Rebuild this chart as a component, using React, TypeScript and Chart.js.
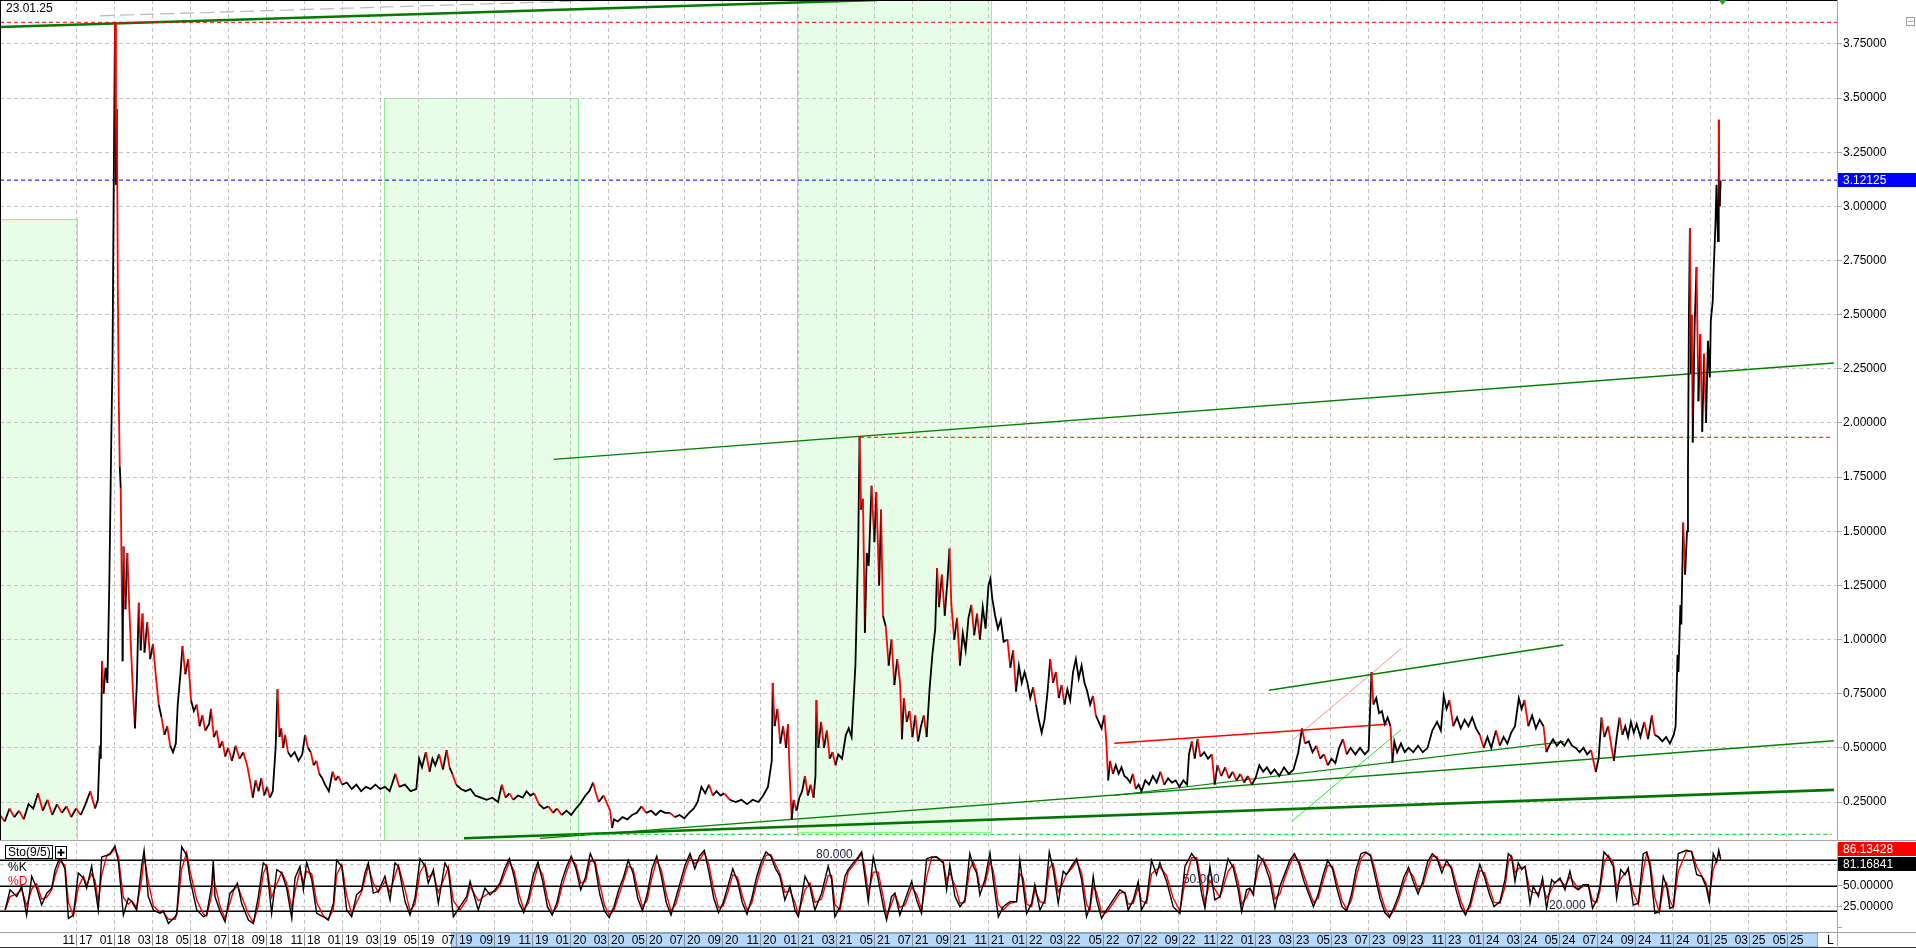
import React, { useEffect, useRef } from "react";
import { Chart, registerables } from "chart.js";

Chart.register(...registerables);

const FONT = '"Liberation Sans", Arial, Helvetica, sans-serif';
const GRID = "#c4c4c4";

// ---------- time axis (t = months since Jan 2017) ----------
const X_MIN = 6.0;
const X_MAX = 102.64;
const gridMonths = [10, 12, 14, 16, 18, 20, 22, 24, 26, 28, 30, 32, 34, 36, 38, 40, 42, 44, 46, 48, 50, 52, 54, 56, 58, 60, 62, 64, 66, 68, 70, 72, 74, 76, 78, 80, 82, 84, 86, 88, 90, 92, 94, 96, 98, 100];
const monthLabels = ["11 17", "01 18", "03 18", "05 18", "07 18", "09 18", "11 18", "01 19", "03 19", "05 19", "07 19", "09 19", "11 19", "01 20", "03 20", "05 20", "07 20", "09 20", "11 20", "01 21", "03 21", "05 21", "07 21", "09 21", "11 21", "01 22", "03 22", "05 22", "07 22", "09 22", "11 22", "01 23", "03 23", "05 23", "07 23", "09 23", "11 23", "01 24", "03 24", "05 24", "07 24", "09 24", "11 24", "01 25", "03 25", "05 25"];
const highlightT = [29.74, 101.58];

// ---------- price ----------
const priceTicks = [0.25, 0.5, 0.75, 1.0, 1.25, 1.5, 1.75, 2.0, 2.25, 2.5, 2.75, 3.0, 3.25, 3.5, 3.75];
const Y_MIN = 0.07;
const Y_MAX = 3.953;

const priceT = [6.0, 6.25, 6.5, 6.75, 7.0, 7.25, 7.5, 7.75, 8.0, 8.25, 8.5, 8.75, 9.0, 9.25, 9.5, 9.75, 10.0, 10.25, 10.5, 10.75, 11.0, 11.15, 11.25, 11.3, 11.37, 11.45, 11.55, 11.65, 11.75, 11.85, 11.92, 12.0, 12.05, 12.1, 12.15, 12.2, 12.25, 12.3, 12.35, 12.4, 12.45, 12.5, 12.6, 12.7, 12.8, 12.9, 13.0, 13.1, 13.2, 13.3, 13.4, 13.5, 13.6, 13.75, 13.9, 14.05, 14.2, 14.35, 14.5, 14.65, 14.8, 14.95, 15.1, 15.25, 15.35, 15.5, 15.6, 15.75, 15.9, 16.05, 16.2, 16.35, 16.5, 16.65, 16.8, 17.0, 17.1, 17.25, 17.4, 17.55, 17.7, 17.85, 18.0, 18.2, 18.4, 18.6, 18.8, 19.0, 19.15, 19.3, 19.45, 19.6, 19.75, 19.9, 20.05, 20.2, 20.35, 20.5, 20.6, 20.7, 20.8, 20.9, 21.0, 21.15, 21.3, 21.5, 21.7, 21.9, 22.05, 22.2, 22.35, 22.5, 22.65, 22.8, 22.95, 23.1, 23.3, 23.5, 23.65, 23.8, 24.0, 24.25, 24.5, 24.75, 25.0, 25.25, 25.5, 25.75, 26.0, 26.25, 26.5, 26.8, 27.0, 27.3, 27.6, 27.9, 28.05, 28.2, 28.4, 28.6, 28.75, 28.9, 29.1, 29.3, 29.5, 29.65, 29.8, 30.0, 30.25, 30.5, 30.75, 31.0, 31.3, 31.6, 31.9, 32.2, 32.4, 32.6, 32.8, 33.0, 33.25, 33.5, 33.7, 33.9, 34.1, 34.35, 34.6, 34.85, 35.1, 35.3, 35.55, 35.8, 36.05, 36.3, 36.5, 36.8, 37.0, 37.2, 37.35, 37.5, 37.75, 37.95, 38.1, 38.2, 38.3, 38.5, 38.75, 39.0, 39.25, 39.5, 39.75, 40.0, 40.25, 40.5, 40.75, 41.0, 41.25, 41.5, 41.75, 42.0, 42.25, 42.5, 42.7, 42.9, 43.1, 43.3, 43.5, 43.7, 43.9, 44.1, 44.4, 44.7, 45.0, 45.3, 45.6, 45.9, 46.15, 46.4, 46.6, 46.65, 46.75, 46.9, 47.05, 47.2, 47.35, 47.45, 47.55, 47.65, 47.75, 47.9, 48.05, 48.2, 48.35, 48.5, 48.65, 48.8, 48.9, 48.95, 49.05, 49.2, 49.35, 49.5, 49.65, 49.8, 49.95, 50.1, 50.3, 50.5, 50.65, 50.8, 51.0, 51.05, 51.15, 51.22, 51.3, 51.4, 51.5, 51.6, 51.7, 51.85, 52.0, 52.1, 52.25, 52.35, 52.45, 52.6, 52.75, 52.9, 53.05, 53.2, 53.35, 53.45, 53.55, 53.7, 53.85, 54.0, 54.15, 54.3, 54.45, 54.6, 54.75, 54.9, 55.05, 55.2, 55.3, 55.4, 55.55, 55.7, 55.85, 55.95, 56.05, 56.2, 56.35, 56.5, 56.65, 56.8, 56.95, 57.1, 57.25, 57.4, 57.55, 57.7, 57.85, 58.0, 58.1, 58.2, 58.35, 58.5, 58.65, 58.8, 59.0, 59.15, 59.3, 59.45, 59.6, 59.75, 59.9, 60.05, 60.2, 60.35, 60.5, 60.65, 60.8, 60.95, 61.1, 61.25, 61.4, 61.55, 61.7, 61.85, 62.0, 62.15, 62.3, 62.45, 62.6, 62.75, 62.9, 63.05, 63.2, 63.35, 63.5, 63.65, 63.8, 63.95, 64.1, 64.2, 64.3, 64.4, 64.55, 64.7, 64.85, 65.0, 65.15, 65.3, 65.45, 65.6, 65.75, 65.9, 66.05, 66.25, 66.45, 66.65, 66.85, 67.05, 67.25, 67.45, 67.65, 67.85, 68.05, 68.25, 68.45, 68.55, 68.7, 68.85, 69.0, 69.15, 69.35, 69.55, 69.75, 69.9, 70.05, 70.25, 70.45, 70.65, 70.85, 71.05, 71.25, 71.45, 71.65, 71.85, 72.05, 72.25, 72.45, 72.65, 72.85, 73.05, 73.3, 73.55, 73.8, 74.05, 74.3, 74.5, 74.65, 74.85, 75.05, 75.25, 75.45, 75.65, 75.85, 76.05, 76.25, 76.45, 76.65, 76.85, 77.05, 77.3, 77.55, 77.8, 78.0, 78.15, 78.25, 78.4, 78.55, 78.7, 78.85, 79.0, 79.15, 79.25, 79.35, 79.5, 79.7, 79.9, 80.1, 80.35, 80.6, 80.85, 81.1, 81.35, 81.6, 81.8, 81.95, 82.1, 82.25, 82.45, 82.65, 82.85, 83.05, 83.25, 83.45, 83.65, 83.85, 84.05, 84.25, 84.45, 84.7, 84.9, 85.1, 85.3, 85.5, 85.7, 85.9, 86.05, 86.2, 86.4, 86.6, 86.8, 87.0, 87.2, 87.35, 87.5, 87.7, 87.9, 88.1, 88.3, 88.5, 88.7, 88.9, 89.1, 89.3, 89.5, 89.7, 89.95, 90.1, 90.25, 90.4, 90.6, 90.75, 90.9, 91.05, 91.2, 91.35, 91.5, 91.65, 91.8, 91.95, 92.1, 92.3, 92.5, 92.7, 92.9, 93.05, 93.25, 93.45, 93.65, 93.85, 94.05, 94.15, 94.25, 94.3, 94.4, 94.45, 94.55, 94.65, 94.75, 94.8, 94.85, 94.9, 94.95, 95.0, 95.05, 95.15, 95.25, 95.35, 95.45, 95.55, 95.65, 95.75, 95.85, 95.95, 96.0, 96.1, 96.15, 96.25, 96.3, 96.38, 96.42, 96.47, 96.52];
const priceV = [0.19, 0.16, 0.22, 0.18, 0.21, 0.17, 0.24, 0.22, 0.29, 0.21, 0.26, 0.19, 0.24, 0.2, 0.23, 0.18, 0.22, 0.19, 0.24, 0.3, 0.22, 0.26, 0.51, 0.45, 0.9, 0.75, 0.87, 0.8, 1.25, 1.9, 2.3, 3.3, 3.85, 3.1, 3.45, 2.6, 2.1, 1.8, 1.7, 1.3, 0.9, 1.43, 1.14, 1.4, 1.15, 0.94, 0.75, 0.59, 0.8, 1.17, 0.95, 1.12, 0.94, 1.08, 0.91, 0.98, 0.83, 0.7, 0.64, 0.56, 0.6, 0.51, 0.48, 0.52, 0.7, 0.85, 0.97, 0.84, 0.91, 0.72, 0.67, 0.7, 0.6, 0.65, 0.58, 0.61, 0.68, 0.55, 0.58, 0.5, 0.53, 0.46, 0.5, 0.44, 0.51, 0.45, 0.48, 0.42, 0.35, 0.27, 0.35, 0.3, 0.36, 0.28, 0.32, 0.27, 0.3, 0.5, 0.77, 0.55, 0.59, 0.5, 0.56, 0.48, 0.46, 0.48, 0.44, 0.47, 0.56, 0.5, 0.48, 0.42, 0.44, 0.38, 0.36, 0.33, 0.3, 0.39, 0.35, 0.37, 0.33, 0.34, 0.31, 0.33, 0.3, 0.32, 0.31, 0.33, 0.31, 0.32, 0.3, 0.38, 0.32, 0.33, 0.3, 0.31, 0.45, 0.41, 0.48, 0.39, 0.45, 0.42, 0.47, 0.4, 0.49, 0.41, 0.38, 0.33, 0.31, 0.3, 0.31, 0.28, 0.27, 0.26, 0.27, 0.25, 0.33, 0.27, 0.29, 0.26, 0.28, 0.27, 0.3, 0.28, 0.29, 0.24, 0.22, 0.23, 0.2, 0.22, 0.19, 0.21, 0.19, 0.22, 0.24, 0.28, 0.3, 0.34, 0.29, 0.25, 0.28, 0.24, 0.21, 0.13, 0.17, 0.16, 0.18, 0.17, 0.19, 0.2, 0.23, 0.2, 0.21, 0.19, 0.21, 0.2, 0.2, 0.18, 0.19, 0.175, 0.2, 0.22, 0.25, 0.32, 0.29, 0.33, 0.28, 0.3, 0.28, 0.29, 0.26, 0.25, 0.26, 0.24, 0.26, 0.25, 0.28, 0.32, 0.44, 0.8, 0.6, 0.68, 0.52, 0.6, 0.5, 0.61, 0.37, 0.17, 0.26, 0.21, 0.27, 0.3, 0.37, 0.28, 0.33, 0.27, 0.37, 0.72, 0.5, 0.62, 0.5, 0.58, 0.45, 0.48, 0.42, 0.47, 0.45, 0.56, 0.59, 0.55, 0.88, 1.06, 1.45, 1.94, 1.6, 1.65, 1.03, 1.4, 1.34, 1.71, 1.45, 1.68, 1.25, 1.6, 1.11, 1.06, 0.88, 1.0, 0.79, 0.91, 0.8, 0.54, 0.73, 0.62, 0.67, 0.55, 0.65, 0.53, 0.6, 0.65, 0.55, 0.77, 0.93, 1.05, 1.33, 1.15, 1.3, 1.11, 1.28, 1.42, 1.16, 1.0, 1.1, 0.88, 1.03, 0.95, 1.1, 1.16, 1.02, 1.12, 1.0, 1.15, 1.05, 1.25, 1.28, 1.19, 1.11, 1.05, 1.09, 0.99, 1.0, 0.87, 0.95, 0.76, 0.88, 0.8, 0.85, 0.8, 0.73, 0.78, 0.7, 0.63, 0.57, 0.63, 0.75, 0.91, 0.8, 0.85, 0.73, 0.79, 0.7, 0.77, 0.72, 0.85, 0.91, 0.82, 0.88, 0.8, 0.76, 0.7, 0.74, 0.65, 0.62, 0.59, 0.65, 0.53, 0.35, 0.44, 0.38, 0.42, 0.38, 0.41, 0.37, 0.36, 0.34, 0.38, 0.31, 0.33, 0.3, 0.35, 0.33, 0.37, 0.34, 0.39, 0.33, 0.36, 0.34, 0.35, 0.32, 0.35, 0.33, 0.47, 0.53, 0.45, 0.54, 0.46, 0.48, 0.45, 0.47, 0.33, 0.42, 0.37, 0.41, 0.36, 0.39, 0.35, 0.38, 0.34, 0.37, 0.33, 0.36, 0.42, 0.39, 0.41, 0.38, 0.4, 0.37, 0.41, 0.38, 0.4, 0.48, 0.59, 0.52, 0.53, 0.48, 0.51, 0.45, 0.47, 0.42, 0.45, 0.43, 0.5, 0.54, 0.47, 0.5, 0.47, 0.5, 0.47, 0.49, 0.85, 0.7, 0.73, 0.66, 0.67, 0.61, 0.64, 0.6, 0.43, 0.53, 0.48, 0.52, 0.48, 0.5, 0.48, 0.51, 0.48, 0.5, 0.58, 0.62, 0.58, 0.74, 0.68, 0.72, 0.6, 0.64, 0.59, 0.63, 0.6, 0.64, 0.59, 0.56, 0.5, 0.55, 0.5, 0.58, 0.51, 0.55, 0.52, 0.57, 0.6, 0.73, 0.68, 0.72, 0.6, 0.65, 0.59, 0.63, 0.6, 0.48, 0.51, 0.54, 0.51, 0.53, 0.51, 0.54, 0.51, 0.5, 0.48, 0.5, 0.47, 0.49, 0.39, 0.45, 0.64, 0.55, 0.6, 0.52, 0.44, 0.55, 0.64, 0.56, 0.6, 0.55, 0.62, 0.57, 0.61, 0.55, 0.62, 0.54, 0.65, 0.56, 0.55, 0.53, 0.55, 0.52, 0.56, 0.6, 0.93, 0.85, 1.16, 1.07, 1.54, 1.3, 1.5, 1.78, 2.5, 2.9, 2.23, 2.5, 1.91, 2.45, 2.72, 2.1, 2.41, 1.96, 2.32, 2.0, 2.38, 2.21, 2.47, 2.56, 2.7, 2.93, 3.1, 2.84, 3.4, 3.0, 3.12];

const lastClose = 3.12125;
const athLevel = 3.85;
const high2021Level = 1.934;
const high2021SpanT = [51.25, 102.3];
const floorLevel = 0.101;
const floorSpanT = [36.0, 102.37];
const markerT = 96.62;

// trend lines (two end points each)
const topTrendT = [6.0, 52.14];
const topTrendV = [3.828, 3.953];
const topDashT = [11.26, 38.25];
const topDashV = [3.88, 3.953];
const channelTopT = [35.12, 102.48];
const channelTopV = [1.832, 2.277];
const supportThickT = [30.41, 102.48];
const supportThickV = [0.083, 0.306];
const supportThinT = [34.41, 102.48];
const supportThinV = [0.082, 0.533];
const support2T = [64.6, 88.27];
const support2V = [0.28, 0.529];
const upperShortT = [72.76, 88.25];
const upperShortV = [0.766, 0.975];
const redTrendT = [64.62, 78.99];
const redTrendV = [0.521, 0.609];
const pinkTrendT = [73.96, 79.7];
const pinkTrendV = [0.533, 0.957];
const limeTrendT = [73.96, 79.7];
const limeTrendV = [0.161, 0.583];

// shaded zones
const zoneStartT = [6.0, 26.18, 47.93];
const zoneEndT = [10.03, 36.41, 58.16];
const zoneTopV = [2.943, 3.502, 4.5];
const zoneBottomV = [-1, -1, 0.112];

// ---------- stochastic ----------
const stochT = [6.27, 6.53, 6.88, 7.14, 7.4, 7.67, 7.93, 8.19, 8.46, 8.72, 8.9, 9.16, 9.42, 9.6, 9.86, 10.12, 10.39, 10.56, 10.82, 11.0, 11.17, 11.35, 11.61, 11.79, 12.05, 12.23, 12.49, 12.75, 12.93, 13.19, 13.45, 13.58, 13.8, 14.07, 14.42, 14.59, 14.86, 15.21, 15.3, 15.56, 15.82, 16.0, 16.35, 16.7, 16.87, 17.14, 17.22, 17.31, 17.57, 17.84, 18.1, 18.28, 18.49, 18.71, 19.07, 19.33, 19.59, 19.85, 20.03, 20.29, 20.56, 20.82, 21.08, 21.35, 21.52, 21.78, 21.96, 22.13, 22.4, 22.66, 23.01, 23.27, 23.54, 23.71, 23.98, 24.24, 24.5, 24.76, 25.03, 25.2, 25.38, 25.64, 25.9, 26.25, 26.52, 26.78, 26.96, 27.31, 27.57, 27.83, 28.1, 28.36, 28.53, 28.8, 29.06, 29.41, 29.59, 29.85, 30.2, 30.55, 30.73, 31.16, 31.51, 31.78, 32.04, 32.3, 32.55, 32.8, 33.05, 33.3, 33.55, 33.8, 34.05, 34.3, 34.55, 34.8, 35.05, 35.3, 35.55, 35.8, 36.05, 36.3, 36.55, 36.8, 37.05, 37.3, 37.55, 37.8, 38.05, 38.3, 38.55, 38.8, 39.05, 39.3, 39.55, 39.8, 40.05, 40.3, 40.55, 40.8, 41.05, 41.3, 41.55, 41.8, 42.05, 42.3, 42.55, 42.8, 43.05, 43.3, 43.55, 43.8, 44.05, 44.3, 44.55, 44.8, 45.05, 45.3, 45.55, 45.8, 46.05, 46.3, 46.55, 46.8, 47.03, 47.29, 47.56, 47.82, 48.0, 48.35, 48.61, 48.87, 49.22, 49.57, 49.75, 49.92, 50.19, 50.45, 50.62, 50.89, 51.15, 51.33, 51.5, 51.68, 51.94, 52.2, 52.47, 52.64, 52.9, 53.08, 53.34, 53.61, 53.96, 54.22, 54.48, 54.75, 55.01, 55.27, 55.62, 55.8, 55.97, 56.24, 56.5, 56.76, 57.02, 57.2, 57.38, 57.55, 57.81, 58.08, 58.25, 58.52, 58.78, 59.13, 59.48, 59.65, 59.83, 60.01, 60.27, 60.44, 60.71, 60.97, 61.2, 61.41, 61.67, 61.93, 62.11, 62.37, 62.64, 62.9, 63.16, 63.34, 63.51, 63.69, 63.95, 64.21, 64.56, 64.91, 65.18, 65.35, 65.62, 65.88, 66.05, 66.32, 66.58, 66.84, 67.02, 67.37, 67.72, 68.07, 68.34, 68.69, 68.95, 69.21, 69.39, 69.65, 69.91, 70.18, 70.61, 70.88, 71.14, 71.32, 71.58, 71.75, 71.93, 72.19, 72.45, 72.8, 73.07, 73.33, 73.6, 73.85, 74.1, 74.35, 74.6, 74.85, 75.1, 75.35, 75.6, 75.85, 76.1, 76.35, 76.6, 76.85, 77.1, 77.35, 77.6, 77.85, 78.1, 78.35, 78.6, 78.85, 79.1, 79.35, 79.6, 79.85, 80.1, 80.35, 80.6, 80.85, 81.1, 81.35, 81.6, 81.85, 82.1, 82.35, 82.6, 82.85, 83.1, 83.35, 83.6, 83.85, 84.1, 84.35, 84.6, 84.91, 85.17, 85.35, 85.52, 85.7, 85.87, 86.05, 86.23, 86.49, 86.66, 86.93, 87.15, 87.36, 87.63, 87.8, 88.07, 88.33, 88.59, 88.77, 89.03, 89.29, 89.56, 89.78, 90.0, 90.17, 90.38, 90.61, 90.87, 91.05, 91.26, 91.49, 91.66, 91.92, 92.19, 92.45, 92.63, 92.8, 93.06, 93.29, 93.5, 93.68, 93.85, 94.03, 94.29, 94.73, 94.99, 95.26, 95.52, 95.75, 95.92, 96.13, 96.31, 96.42, 96.52];
const stochK = [21, 45, 37, 49, 15, 61, 47, 27, 41, 47, 69, 84, 69, 11, 15, 65, 59, 47, 73, 47, 21, 84, 86, 88, 97, 78, 15, 35, 31, 21, 73, 92, 37, 21, 17, 20, 5, 13, 17, 96, 86, 57, 21, 13, 15, 51, 80, 37, 20, 7, 41, 45, 53, 29, 9, 5, 37, 77, 73, 17, 69, 65, 47, 11, 59, 73, 45, 78, 57, 17, 13, 9, 29, 80, 73, 21, 13, 39, 45, 65, 77, 41, 43, 61, 33, 77, 73, 31, 15, 35, 82, 73, 53, 69, 29, 77, 69, 13, 25, 37, 55, 21, 47, 39, 45, 53, 70, 82, 60, 30, 18, 35, 62, 78, 55, 25, 15, 30, 55, 72, 85, 70, 45, 60, 88, 75, 40, 20, 12, 25, 45, 60, 80, 65, 35, 20, 40, 70, 85, 60, 30, 15, 35, 55, 75, 88, 70, 85, 92, 65, 35, 18, 30, 50, 70, 55, 30, 16, 35, 60, 78, 90, 85, 70, 61, 33, 49, 21, 13, 61, 49, 21, 41, 73, 57, 13, 25, 61, 69, 77, 84, 90, 61, 31, 84, 57, 25, 9, 37, 41, 15, 33, 55, 33, 17, 82, 84, 84, 77, 45, 75, 37, 25, 33, 88, 73, 65, 39, 57, 89, 57, 13, 25, 31, 31, 80, 49, 17, 29, 51, 21, 33, 90, 69, 29, 67, 63, 73, 82, 57, 13, 25, 61, 33, 11, 21, 33, 45, 41, 21, 33, 55, 21, 33, 80, 63, 77, 55, 25, 17, 73, 88, 80, 41, 23, 73, 33, 37, 82, 71, 45, 19, 45, 47, 39, 86, 80, 57, 23, 49, 65, 80, 88, 75, 55, 40, 25, 40, 62, 80, 70, 45, 25, 20, 40, 70, 88, 90, 85, 60, 35, 18, 12, 25, 40, 60, 72, 55, 40, 55, 78, 88, 82, 65, 80, 70, 45, 25, 15, 30, 55, 75, 60, 40, 25, 31, 57, 88, 84, 55, 77, 69, 73, 29, 49, 37, 59, 23, 57, 53, 59, 45, 67, 49, 45, 51, 51, 23, 33, 49, 90, 84, 73, 35, 69, 63, 71, 27, 29, 88, 90, 73, 17, 19, 61, 49, 23, 25, 88, 92, 90, 63, 61, 49, 31, 88, 78, 92, 81];
const stochD = [21, 37, 40, 45, 26, 46, 52, 34, 36, 45, 62, 79, 74, 30, 14, 48, 61, 51, 64, 56, 30, 63, 85, 87, 94, 84, 36, 28, 32, 24, 56, 86, 55, 26, 18, 19, 10, 10, 16, 70, 89, 67, 33, 16, 14, 39, 70, 51, 26, 11, 30, 44, 50, 37, 16, 6, 26, 64, 74, 36, 52, 66, 53, 23, 43, 68, 54, 67, 64, 30, 14, 10, 22, 63, 75, 38, 16, 30, 43, 58, 73, 53, 42, 55, 42, 62, 74, 45, 20, 28, 66, 76, 60, 64, 42, 61, 72, 32, 21, 33, 49, 32, 38, 42, 43, 50, 64, 78, 67, 40, 22, 29, 53, 73, 63, 35, 18, 25, 47, 66, 81, 75, 53, 55, 79, 79, 52, 27, 15, 21, 38, 55, 73, 70, 45, 25, 33, 60, 80, 68, 40, 20, 28, 48, 68, 84, 76, 80, 90, 74, 45, 24, 26, 43, 63, 60, 38, 21, 29, 52, 72, 86, 87, 75, 64, 42, 44, 30, 16, 45, 53, 30, 34, 62, 62, 28, 21, 49, 66, 74, 82, 88, 71, 41, 66, 66, 36, 14, 28, 40, 24, 27, 48, 40, 22, 60, 83, 84, 79, 56, 65, 50, 29, 30, 70, 78, 68, 48, 51, 78, 68, 28, 21, 29, 31, 64, 59, 28, 25, 44, 31, 29, 71, 76, 42, 54, 64, 70, 79, 65, 28, 21, 49, 42, 18, 18, 29, 41, 42, 28, 29, 48, 32, 29, 64, 69, 72, 62, 35, 20, 54, 83, 83, 54, 29, 56, 46, 36, 67, 75, 54, 28, 36, 46, 42, 70, 82, 65, 34, 40, 60, 75, 85, 79, 62, 45, 30, 35, 55, 74, 73, 53, 32, 22, 33, 60, 82, 89, 87, 68, 43, 24, 14, 21, 35, 53, 68, 61, 45, 50, 70, 85, 84, 71, 75, 73, 53, 32, 18, 25, 47, 68, 65, 47, 30, 29, 48, 78, 85, 65, 70, 72, 72, 44, 42, 41, 52, 35, 46, 54, 57, 50, 60, 55, 46, 49, 51, 32, 30, 44, 76, 86, 77, 48, 58, 65, 68, 42, 28, 68, 89, 79, 36, 18, 47, 53, 32, 24, 67, 91, 91, 72, 62, 53, 37, 69, 81, 87, 86];
const stochLevels = [20, 50, 80];
const stochTicks = [0, 25, 50, 75, 100];
const stochDLast = 86.13428;
const stochKLast = 81.16841;
const levelTextT = [48.93, 68.23, 87.49];
const levelTextV = [87, 57.4, 26.5];
const levelText = ["80.000", "50.000", "20.000"];

const toXY = (ts: number[], vs: number[]) => ts.map((t, i) => ({ x: t, y: vs[i] }));
const hLine = (span: number[], v: number) => [{ x: span[0], y: v }, { x: span[1], y: v }];

function xScaleBase(height: number) {
  return {
    type: "linear" as const,
    min: X_MIN,
    max: X_MAX,
    afterBuildTicks: (s: any) => {
      s.ticks = gridMonths.map((v) => ({ value: v }));
    },
    afterFit: (s: any) => {
      s.height = height;
      s.paddingLeft = 0;
      s.paddingRight = 0;
      s.paddingTop = 0;
      s.paddingBottom = 0;
    },
    ticks: { display: false },
    grid: { color: GRID, drawTicks: false, lineWidth: 1 },
    border: { display: false, dash: [4, 3] },
  };
}

function yAfterFit(s: any) {
  s.width = 79;
  s.paddingTop = 0;
  s.paddingBottom = 0;
  s.paddingLeft = 0;
  s.paddingRight = 0;
}

export default function App() {
  const mainRef = useRef<HTMLCanvasElement>(null);
  const stoRef = useRef<HTMLCanvasElement>(null);

  useEffect(() => {
    document.body.style.margin = "0";
    document.body.style.overflow = "hidden";

    const lineDs = (data: any[], color: string, width: number, dash: number[] = []) => ({
      data,
      borderColor: color,
      borderWidth: width,
      borderDash: dash,
      pointRadius: 0,
      fill: false,
      tension: 0,
      order: 2,
      borderCapStyle: "butt" as const,
    });

    const mainDecor = {
      id: "mainDecor",
      beforeDraw(chart: any) {
        const { ctx, chartArea: a, scales } = chart;
        const x = scales.x;
        const y = scales.y;
        ctx.save();
        ctx.fillStyle = "#ffffff";
        ctx.fillRect(0, 0, chart.width, chart.height);
        ctx.beginPath();
        ctx.rect(a.left, a.top, a.right - a.left, a.bottom - a.top);
        ctx.clip();
        for (let i = 0; i < zoneStartT.length; i++) {
          const x0 = Math.round(x.getPixelForValue(zoneStartT[i]));
          const x1 = Math.round(x.getPixelForValue(zoneEndT[i]));
          const y0 = Math.round(y.getPixelForValue(zoneTopV[i]));
          const y1 = Math.round(y.getPixelForValue(zoneBottomV[i]));
          ctx.fillStyle = "#e8fde8";
          ctx.fillRect(x0, y0, x1 - x0, y1 - y0);
          ctx.strokeStyle = "#8ef08e";
          ctx.lineWidth = 1;
          ctx.strokeRect(x0 + 0.5, y0 + 0.5, x1 - x0, y1 - y0);
        }
        ctx.restore();
      },
      afterDraw(chart: any) {
        const { ctx, chartArea: a, scales } = chart;
        const x = scales.x;
        const y = scales.y;
        ctx.save();
        ctx.strokeStyle = "#000";
        ctx.lineWidth = 1;
        ctx.beginPath();
        ctx.moveTo(0, 0.5);
        ctx.lineTo(a.right, 0.5);
        ctx.moveTo(0.5, 0);
        ctx.lineTo(0.5, a.bottom);
        ctx.stroke();
        ctx.strokeStyle = "#a8a8a8";
        ctx.beginPath();
        ctx.moveTo(0, a.bottom - 0.5);
        ctx.lineTo(chart.width, a.bottom - 0.5);
        ctx.stroke();
        ctx.fillStyle = "#000";
        ctx.font = `12px ${FONT}`;
        ctx.textBaseline = "middle";
        ctx.textAlign = "left";
        ctx.fillText("23.01.25", 6, 8.5);
        const yc = y.getPixelForValue(lastClose);
        ctx.fillStyle = "#0000ff";
        ctx.fillRect(a.right + 1, Math.round(yc) - 7, chart.width - a.right - 1, 14);
        ctx.fillStyle = "#ffffff";
        ctx.fillText(lastClose.toFixed(5), a.right + 6, yc + 0.5);
        const mx = x.getPixelForValue(markerT);
        ctx.fillStyle = "#2e9e2e";
        ctx.beginPath();
        ctx.moveTo(mx - 4, 0);
        ctx.lineTo(mx + 4, 0);
        ctx.lineTo(mx, 5);
        ctx.closePath();
        ctx.fill();
        ctx.strokeStyle = "#a0a0a0";
        ctx.strokeRect(1906.5, 17.5, 8, 8);
        ctx.beginPath();
        ctx.moveTo(1908, 21.5);
        ctx.lineTo(1913, 21.5);
        ctx.stroke();
        ctx.restore();
      },
    };

    const main = new Chart(mainRef.current as HTMLCanvasElement, {
      type: "line",
      data: {
        datasets: [
          {
            data: toXY(priceT, priceV),
            borderColor: "#000000",
            borderWidth: 1.8,
            pointRadius: 0,
            tension: 0,
            fill: false,
            order: 0,
            segment: {
              borderColor: (c: any) =>
                (c.p0.parsed.y - c.p1.parsed.y) / c.p0.parsed.y > 0.1 ? "#ff0000" : "#000000",
            },
          } as any,
          lineDs(hLine([X_MIN, X_MAX], athLevel), "#ff0000", 1, [4, 3]),
          lineDs(hLine([X_MIN, X_MAX], lastClose), "#0000ff", 1, [4, 3]),
          lineDs(hLine(high2021SpanT, high2021Level), "#ff0000", 1, [4, 3]),
          lineDs(hLine(floorSpanT, floorLevel), "#00cc00", 1, [4, 3]),
          lineDs(toXY(topDashT, topDashV), "#b8b8b8", 1.2, [14, 6]),
          lineDs(toXY(topTrendT, topTrendV), "#007a00", 2.6),
          lineDs(toXY(channelTopT, channelTopV), "#008000", 1.4),
          lineDs(toXY(supportThickT, supportThickV), "#007400", 2.6),
          lineDs(toXY(supportThinT, supportThinV), "#008000", 1.4),
          lineDs(toXY(support2T, support2V), "#008000", 1.2),
          lineDs(toXY(upperShortT, upperShortV), "#008000", 1.4),
          lineDs(toXY(redTrendT, redTrendV), "#ff0000", 1.4),
          lineDs(toXY(pinkTrendT, pinkTrendV), "#ff9090", 1),
          lineDs(toXY(limeTrendT, limeTrendV), "#22ee22", 1),
        ],
      },
      options: {
        responsive: false,
        animation: false,
        devicePixelRatio: 1,
        events: [],
        layout: { padding: 0 },
        plugins: { legend: { display: false }, tooltip: { enabled: false } },
        scales: {
          x: xScaleBase(0) as any,
          y: {
            type: "linear",
            position: "right",
            min: Y_MIN,
            max: Y_MAX,
            afterBuildTicks: (s: any) => {
              s.ticks = priceTicks.map((v) => ({ value: v }));
            },
            afterFit: yAfterFit,
            ticks: {
              color: "#000",
              font: { family: FONT, size: 12 },
              padding: 1,
              autoSkip: false,
              callback: (v: any) => Number(v).toFixed(5),
            },
            grid: { color: GRID, tickLength: 5, tickColor: "#a8a8a8" },
            border: { display: true, color: "#a8a8a8", width: 1, dash: [4, 3] },
          } as any,
        },
      },
      plugins: [mainDecor],
    });

    const stoDecor = {
      id: "stoDecor",
      beforeDraw(chart: any) {
        const { ctx } = chart;
        ctx.save();
        ctx.fillStyle = "#ffffff";
        ctx.fillRect(0, 0, chart.width, chart.height);
        ctx.restore();
      },
      beforeDatasetsDraw(chart: any) {
        const { ctx, chartArea: a, scales } = chart;
        const x = scales.x;
        const y = scales.y;
        ctx.save();
        ctx.font = `12px ${FONT}`;
        ctx.fillStyle = "#1e1e3c";
        ctx.textBaseline = "middle";
        ctx.textAlign = "left";
        for (let i = 0; i < levelText.length; i++) {
          ctx.fillText(levelText[i], x.getPixelForValue(levelTextT[i]), y.getPixelForValue(levelTextV[i]));
        }
        ctx.strokeStyle = "#000";
        ctx.lineWidth = 1.5;
        for (const lv of stochLevels) {
          const py = Math.round(y.getPixelForValue(lv)) + 0.25;
          ctx.beginPath();
          ctx.moveTo(a.left, py);
          ctx.lineTo(a.right, py);
          ctx.stroke();
        }
        ctx.restore();
      },
      afterDraw(chart: any) {
        const { ctx, chartArea: a, scales } = chart;
        const x = scales.x;
        const y = scales.y;
        ctx.save();
        ctx.font = `12px ${FONT}`;
        ctx.textBaseline = "middle";
        ctx.textAlign = "left";
        ctx.fillStyle = "#fff";
        ctx.fillRect(5.5, 4.5, 47, 13);
        ctx.strokeStyle = "#000";
        ctx.lineWidth = 1;
        ctx.strokeRect(5.5, 4.5, 47, 13);
        ctx.fillStyle = "#000";
        ctx.fillText("Sto(9/5)", 8, 11.5);
        ctx.fillStyle = "#fff";
        ctx.fillRect(55.5, 5.5, 11, 12);
        ctx.strokeRect(55.5, 5.5, 11, 12);
        ctx.lineWidth = 2;
        ctx.beginPath();
        ctx.moveTo(57.5, 11.5);
        ctx.lineTo(64.5, 11.5);
        ctx.moveTo(61, 8);
        ctx.lineTo(61, 15);
        ctx.stroke();
        ctx.fillStyle = "#000";
        ctx.fillText("%K", 8, 26.5);
        ctx.fillStyle = "#ff0000";
        ctx.fillText("%D", 8, 40.5);
        const w = chart.width - a.right - 1;
        const yd = y.getPixelForValue(stochDLast) - 6;
        const yk = y.getPixelForValue(stochKLast) + 4.6;
        ctx.fillStyle = "#ff0000";
        ctx.fillRect(a.right + 1, Math.round(yd) - 7, w, 14);
        ctx.fillStyle = "#000000";
        ctx.fillRect(a.right + 1, Math.round(yk) - 7, w, 14);
        ctx.fillStyle = "#ffffff";
        ctx.fillText(stochDLast.toFixed(5), a.right + 6, yd + 0.5);
        ctx.fillText(stochKLast.toFixed(5), a.right + 6, yk + 0.5);
        const top = a.bottom;
        ctx.fillStyle = "#fff";
        ctx.fillRect(0, top, chart.width, chart.height - top);
        const hx0 = Math.round(x.getPixelForValue(highlightT[0]));
        const hx1 = Math.round(x.getPixelForValue(highlightT[1]));
        ctx.fillStyle = "#b7d8f8";
        ctx.fillRect(hx0, top + 1.5, hx1 - hx0, 13);
        ctx.strokeStyle = "#78ade2";
        ctx.lineWidth = 1;
        ctx.strokeRect(hx0 + 0.5, top + 1.5, hx1 - hx0, 13);
        ctx.strokeStyle = "#a0a0a0";
        ctx.beginPath();
        ctx.moveTo(0, top + 0.5);
        ctx.lineTo(chart.width, top + 0.5);
        ctx.stroke();
        ctx.strokeStyle = "#303030";
        ctx.beginPath();
        ctx.moveTo(0, chart.height - 0.5);
        ctx.lineTo(chart.width, chart.height - 0.5);
        ctx.stroke();
        ctx.fillStyle = "#000";
        for (let i = 0; i < gridMonths.length; i++) {
          const gx = Math.round(x.getPixelForValue(gridMonths[i]));
          ctx.strokeStyle = "#8c8c8c";
          ctx.beginPath();
          ctx.moveTo(gx + 0.5, top + 2);
          ctx.lineTo(gx + 0.5, chart.height - 2);
          ctx.stroke();
          const [mm, yy] = monthLabels[i].split(" ");
          ctx.textAlign = "right";
          ctx.fillText(mm, gx - 1, top + 8.5);
          ctx.textAlign = "left";
          ctx.fillText(yy, gx + 3, top + 8.5);
        }
        ctx.textAlign = "left";
        ctx.fillText("L", a.right - 10, top + 8.5);
        ctx.strokeStyle = "#a8a8a8";
        ctx.beginPath();
        ctx.moveTo(a.right + 0.5, top);
        ctx.lineTo(a.right + 0.5, chart.height);
        ctx.stroke();
        ctx.restore();
      },
    };

    const sto = new Chart(stoRef.current as HTMLCanvasElement, {
      type: "line",
      data: {
        datasets: [
          {
            data: toXY(stochT, stochK),
            borderColor: "#000000",
            borderWidth: 1.4,
            pointRadius: 0,
            tension: 0,
            fill: false,
            order: 0,
          },
          {
            data: toXY(stochT, stochD),
            borderColor: "#ff0000",
            borderWidth: 1.4,
            pointRadius: 0,
            tension: 0,
            fill: false,
            order: 1,
          },
        ],
      },
      options: {
        responsive: false,
        animation: false,
        devicePixelRatio: 1,
        events: [],
        layout: { padding: { top: 2, left: 0, right: 0, bottom: 0 } },
        plugins: { legend: { display: false }, tooltip: { enabled: false } },
        scales: {
          x: xScaleBase(16) as any,
          y: {
            type: "linear",
            position: "right",
            min: -5.1,
            max: 100.6,
            afterBuildTicks: (s: any) => {
              s.ticks = stochTicks.map((v) => ({ value: v }));
            },
            afterFit: yAfterFit,
            ticks: {
              color: "#000",
              font: { family: FONT, size: 12 },
              padding: 1,
              autoSkip: false,
              callback: (v: any) => (v > 0 && v < 100 ? Number(v).toFixed(5) : ""),
            },
            grid: {
              color: (c: any) => (c.tick && (c.tick.value === 25 || c.tick.value === 75) ? GRID : "rgba(0,0,0,0)"),
              tickLength: 5,
              tickColor: "#a8a8a8",
            },
            border: { display: true, color: "#a8a8a8", width: 1, dash: [4, 3] },
          } as any,
        },
      },
      plugins: [stoDecor],
    });

    return () => {
      main.destroy();
      sto.destroy();
    };
  }, []);

  return (
    <div style={{ position: "absolute", left: 0, top: 0, width: 1916, height: 948, background: "#fff", overflow: "hidden" }}>
      <canvas ref={mainRef} width={1916} height={841} style={{ position: "absolute", left: 0, top: 0, width: 1916, height: 841 }} />
      <canvas ref={stoRef} width={1916} height={107} style={{ position: "absolute", left: 0, top: 841, width: 1916, height: 107 }} />
    </div>
  );
}
